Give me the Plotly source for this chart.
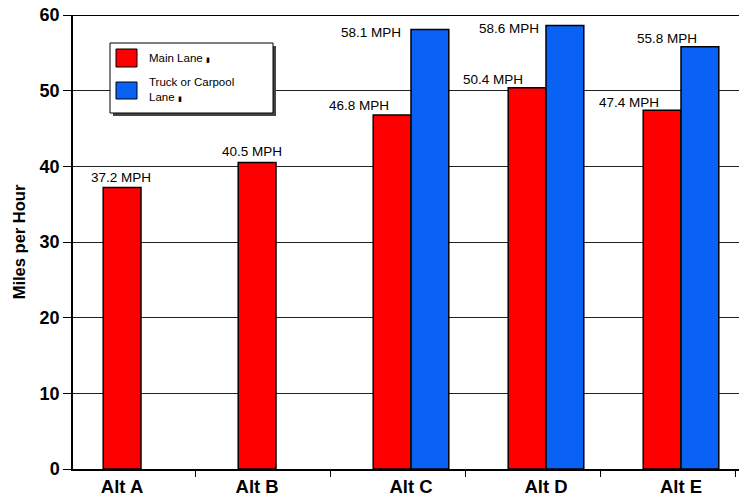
import plotly.graph_objects as go

# Average travel speed by alternative
categories = ["Alt A", "Alt B", "Alt C", "Alt D", "Alt E"]
main_lane = [37.2, 40.5, 46.8, 50.4, 47.4]
truck_carpool = [None, None, 58.1, 58.6, 55.8]
y_ticks = [0, 10, 20, 30, 40, 50, 60]

# Label offsets (px) relative to the top centre of each bar
main_label_shift = [(-1, 10), (-5, 11), (-33, 9), (-34, 8), (-33, 8)]
truck_label_shift = [None, None, (-59, -3), (-56, -3), (-33, 8)]

RED = "#ff0000"
BLUE = "#0a62f5"
W, H = 739, 497
L, R, T, B = 73, 0, 15, 28
HALF = 0.14  # half of the group width occupied by one bar

xs = list(range(len(categories)))

fig = go.Figure()
fig.add_bar(x=xs, y=main_lane, name="Main Lane", marker=dict(color=RED, line=dict(color="black", width=1.5)))
fig.add_bar(x=xs, y=truck_carpool, name="Truck or Carpool Lane", marker=dict(color=BLUE, line=dict(color="black", width=1.5)))

# value labels
lab_font = dict(family="Arial", size=13.5, color="black")
for i, v in enumerate(main_lane):
    dx, dy = main_label_shift[i]
    fig.add_annotation(x=i - HALF, y=v, text=f"{v:.1f} MPH", showarrow=False, xref="x", yref="y",
                       xshift=dx, yshift=dy, yanchor="middle", font=lab_font)
for i, v in enumerate(truck_carpool):
    if v is None:
        continue
    dx, dy = truck_label_shift[i]
    fig.add_annotation(x=i + HALF, y=v, text=f"{v:.1f} MPH", showarrow=False, xref="x", yref="y",
                       xshift=dx, yshift=dy, yanchor="middle", font=lab_font)

# category labels sit under the red bar when a group has only one bar
label_pos = [i - HALF if truck_carpool[i] is None else i for i in xs]

plot_w = W - L - R
px_per_unit = 135
x0 = -(141 - L) / px_per_unit
x_range = [x0, x0 + plot_w / px_per_unit]

fig.update_layout(
    width=W, height=H,
    margin=dict(l=L, r=R, t=T, b=B),
    paper_bgcolor="white", plot_bgcolor="white",
    barmode="group", bargap=0.44, bargroupgap=0,
    showlegend=False,
    xaxis=dict(range=x_range, tickmode="array", tickvals=label_pos, ticktext=categories,
               tickfont=dict(family="Arial", size=18.5, color="black", weight="bold"),
               showline=True, linecolor="black", linewidth=1.5, showgrid=False, ticks="",
               zeroline=False, fixedrange=True, automargin=False),
    xaxis2=dict(range=x_range, overlaying="x", anchor="y", side="bottom", tickmode="array",
                tickvals=[i + 0.4 for i in xs], ticks="outside", ticklen=7, tickcolor="black",
                showticklabels=False, showgrid=False, zeroline=False, showline=False, automargin=False),
    yaxis=dict(range=[0, 60], tickmode="array", tickvals=y_ticks,
               tickfont=dict(family="Arial", size=18, color="black", weight="bold"),
               ticks="outside", ticklen=8, tickcolor="black",
               showline=True, linecolor="black", linewidth=1.5,
               showgrid=True, gridcolor="#222222", gridwidth=1, zeroline=False, automargin=False,
               title=dict(text="Miles per Hour", font=dict(family="Arial", size=16.5, color="black", weight="bold"),
                          standoff=10)),
)
# invisible trace to activate the tick axis
fig.add_scatter(x=[x_range[0]], y=[0], xaxis="x2", mode="markers", marker=dict(opacity=0), hoverinfo="skip")

# top frame line
fig.add_shape(type="line", xref="paper", yref="y", x0=0, x1=1, y0=60, y1=60, line=dict(color="black", width=2))


def px(xp):
    return (xp - L) / plot_w


def py(yp):
    return (H - B - yp) / (H - T - B)


# legend box with drop shadow
fig.add_shape(type="rect", xref="paper", yref="paper", x0=px(113), x1=px(276), y0=py(116), y1=py(46),
              fillcolor="#444444", line=dict(width=0), layer="above")
fig.add_shape(type="rect", xref="paper", yref="paper", x0=px(110), x1=px(273), y0=py(113), y1=py(43),
              fillcolor="white", line=dict(color="black", width=1), layer="above")
fig.add_shape(type="rect", xref="paper", yref="paper", x0=px(116), x1=px(137), y0=py(67), y1=py(49),
              fillcolor=RED, line=dict(color="black", width=1), layer="above")
fig.add_shape(type="rect", xref="paper", yref="paper", x0=px(116), x1=px(137), y0=py(99), y1=py(82),
              fillcolor=BLUE, line=dict(color="black", width=1), layer="above")
leg_font = dict(family="Arial", size=11.5, color="black")
mark = " <span style='font-size:7px'>▮</span>"
for text, ty in [("Main Lane" + mark, 58), ("Truck or Carpool<br>Lane" + mark, 89)]:
    fig.add_annotation(xref="paper", yref="paper", x=px(147), y=py(ty), text=text, showarrow=False,
                       xanchor="left", yanchor="middle", align="left", font=leg_font)

fig.write_html("out.html")
